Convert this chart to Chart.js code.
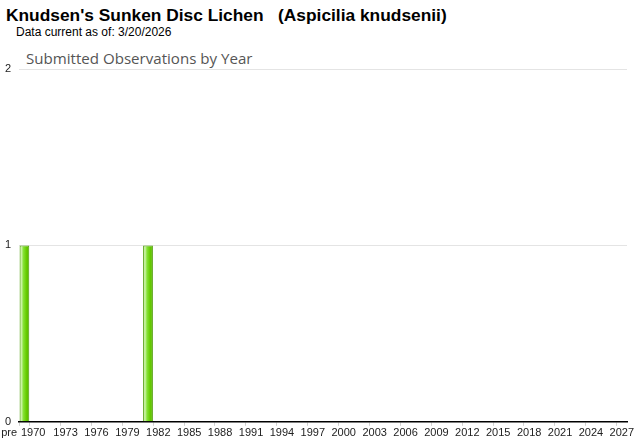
<!DOCTYPE html>
<html>
<head>
<meta charset="utf-8">
<script src="https://cdn.jsdelivr.net/npm/chart.js@4/dist/chart.umd.min.js"></script>
<style>
  html, body { margin: 0; padding: 0; background: #fff; width: 640px; height: 442px; overflow: hidden; font-family: "Liberation Sans", Arial, sans-serif; }
  #title { position: absolute; left: 6px; top: 5px; font-size: 17.35px; font-weight: bold; color: #000; white-space: pre; }
  #asof { position: absolute; left: 16px; top: 25px; font-size: 12px; color: #000; }
  #sub { position: absolute; left: 26px; top: 48px; font-size: 15.1px; color: #555; font-family: "Open Sans", "Liberation Sans", sans-serif; }
  #wrap { position: absolute; left: 0; top: 40px; width: 640px; height: 402px; }
</style>
</head>
<body>
<div id="title">Knudsen's Sunken Disc Lichen   (Aspicilia knudsenii)</div>
<div id="asof">Data current as of: 3/20/2026</div>
<div id="sub">Submitted Observations by Year</div>
<div id="wrap"><canvas id="c" width="640" height="402"></canvas></div>
<script>
const categories = ['pre','1970','1971','1972','1973','1974','1975','1976','1977','1978','1979','1980','1981','1982','1983','1984','1985','1986','1987','1988','1989','1990','1991','1992','1993','1994','1995','1996','1997','1998','1999','2000','2001','2002','2003','2004','2005','2006','2007','2008','2009','2010','2011','2012','2013','2014','2015','2016','2017','2018','2019','2020','2021','2022','2023','2024','2025','2026','2027'];
const observations = [1,0,0,0,0,0,0,0,0,0,0,0,1,0,0,0,0,0,0,0,0,0,0,0,0,0,0,0,0,0,0,0,0,0,0,0,0,0,0,0,0,0,0,0,0,0,0,0,0,0,0,0,0,0,0,0,0,0,0];
const shownTickLabels = ['pre','1970','1973','1976','1979','1982','1985','1988','1991','1994','1997','2000','2003','2006','2009','2012','2015','2018','2021','2024','2027'];
const yTicks = [0,1,2];

function barFill(c) {
  const chart = c.chart;
  const xs = chart.scales && chart.scales.x;
  if (!xs || c.dataIndex == null) return '#66cc00';
  const x = xs.getPixelForValue(c.dataIndex);
  if (!isFinite(x)) return '#66cc00';
  const g = chart.ctx.createLinearGradient(x - 5, 0, x + 5, 0);
  g.addColorStop(0, '#58b000');
  g.addColorStop(0.18, '#d4f7b4');
  g.addColorStop(0.4, '#86e236');
  g.addColorStop(0.7, '#66cc00');
  g.addColorStop(1, '#55b300');
  return g;
}

new Chart(document.getElementById('c'), {
  type: 'bar',
  data: {
    labels: categories,
    datasets: [{
      data: observations,
      backgroundColor: barFill,
      borderColor: '#4a9c00',
      borderWidth: 1,
      barPercentage: 0.95,
      categoryPercentage: 1.0
    }]
  },
  options: {
    responsive: false,
    animation: false,
    layout: { padding: { top: 29, right: 13, left: 0, bottom: 1 } },
    plugins: { legend: { display: false }, tooltip: { enabled: false }, title: { display: false } },
    scales: {
      x: {
        grid: {
          drawOnChartArea: false,
          drawTicks: true,
          tickLength: 4,
          color: (c) => (c.tick && shownTickLabels.includes(categories[c.index])) ? '#d0d0d0' : 'rgba(0,0,0,0)'
        },
        border: { display: true, color: '#000', width: 1.5 },
        ticks: {
          autoSkip: false,
          maxRotation: 0,
          minRotation: 0,
          padding: 1,
          color: '#222',
          font: { family: 'Liberation Sans', size: 11 },
          callback: function (v, i) {
            const lab = categories[i];
            if (!shownTickLabels.includes(lab)) return '';
            if (lab === 'pre') return 'pre          ';
            if (lab === '1970') return '1970 ';
            return lab;
          }
        }
      },
      y: {
        min: 0,
        max: 2,
        afterFit: (s) => { s.width = 19; },
        afterBuildTicks: (s) => { s.ticks = yTicks.map(v => ({ value: v })); },
        grid: { color: '#e4e4e4', drawTicks: false },
        border: { display: false },
        ticks: {
          padding: 8,
          color: '#222',
          font: { family: 'Liberation Sans', size: 11 },
          callback: (v) => String(v)
        }
      }
    }
  }
});
</script>
</body>
</html>
